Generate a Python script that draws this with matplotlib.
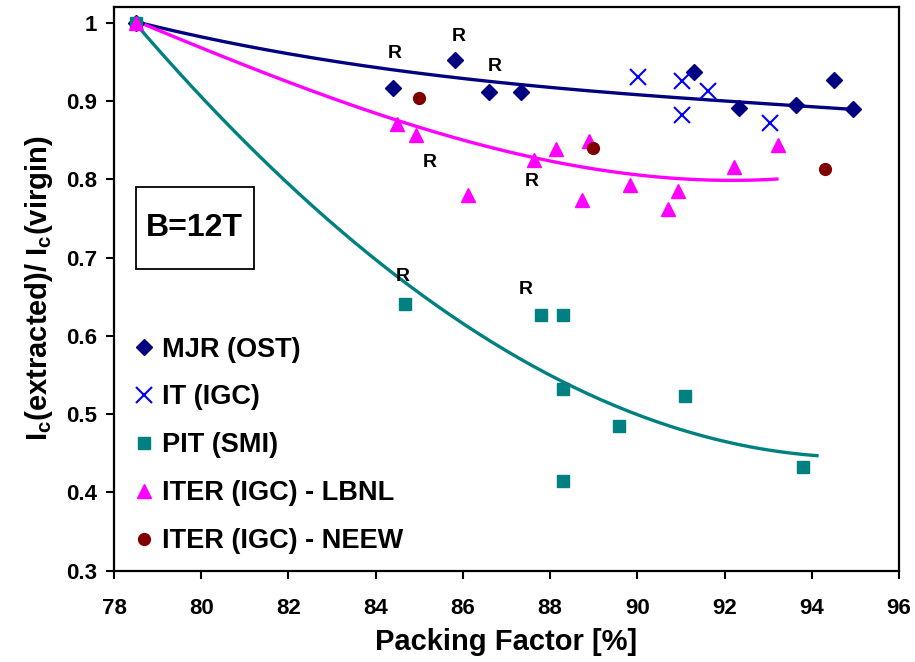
import numpy as np
import matplotlib
matplotlib.use("Agg")
import matplotlib.pyplot as plt
from matplotlib.patches import Rectangle

plt.rcParams['font.family'] = ['Liberation Sans', 'DejaVu Sans']
plt.rcParams['font.weight'] = 'bold'
plt.rcParams['mathtext.fontset'] = 'custom'
plt.rcParams['mathtext.rm'] = 'Liberation Sans:bold'
plt.rcParams['mathtext.bf'] = 'Liberation Sans:bold'
plt.rcParams['mathtext.default'] = 'bf'

# ---- data ----
mjr_x = [78.5, 84.39, 85.81, 86.61, 87.33, 91.31, 92.33, 93.63, 94.52, 94.94]
mjr_y = [1.0, 0.917, 0.952, 0.911, 0.911, 0.937, 0.891, 0.895, 0.927, 0.890]

it_x = [90.01, 91.02, 91.02, 91.62, 93.05]
it_y = [0.931, 0.925, 0.882, 0.913, 0.872]

pit_x = [78.5, 84.67, 87.79, 88.29, 88.29, 88.29, 89.58, 91.09, 93.80]
pit_y = [1.0, 0.641, 0.626, 0.626, 0.532, 0.414, 0.485, 0.523, 0.432]

lbnl_x = [78.5, 84.50, 84.93, 86.11, 87.63, 88.14, 88.90, 88.74, 89.83, 90.71, 90.94, 92.22, 93.22]
lbnl_y = [1.0, 0.871, 0.856, 0.780, 0.825, 0.839, 0.849, 0.774, 0.793, 0.762, 0.785, 0.816, 0.844]

neew_x = [85.00, 88.98, 94.31]
neew_y = [0.904, 0.840, 0.813]

# trend lines
mjr_trend_x = [78.5, 81.27, 84.33, 87.0, 88.69, 90.98, 93.28, 94.94]
mjr_trend_y = [1.0, 0.971, 0.937, 0.923, 0.914, 0.905, 0.895, 0.889]

pit_trend_x = [78.5, 79.74, 81.27, 82.80, 84.64, 86.39, 88.31, 90.22, 92.13, 94.12]
pit_trend_y = [1.0, 0.914, 0.842, 0.752, 0.667, 0.601, 0.541, 0.495, 0.465, 0.446]

lbnl_trend_x = [78.5, 81.27, 84.33, 86.39, 87.0, 88.69, 90.98, 93.2]
lbnl_trend_y = [1.0, 0.946, 0.874, 0.842, 0.835, 0.817, 0.805, 0.798]

r_x = [84.43, 85.90, 86.72, 85.25, 87.59, 84.61, 87.43]
r_y = [0.961, 0.982, 0.944, 0.822, 0.797, 0.676, 0.659]

xticks = [78, 80, 82, 84, 86, 88, 90, 92, 94, 96]
yticks = [0.3, 0.4, 0.5, 0.6, 0.7, 0.8, 0.9, 1.0]
ytick_labels = ['0.3', '0.4', '0.5', '0.6', '0.7', '0.8', '0.9', '1']

NAVY = '#000080'
BLUE = '#0000FF'
TEAL = '#008080'
MAGENTA = '#FF00FF'
DARKRED = '#800000'

fig = plt.figure(figsize=(9.15, 6.62), dpi=100)
ax = fig.add_axes([0.1246, 0.1379, 0.8579, 0.852])

def trend(xs, ys, color, deg=2):
    c = np.polyfit(xs, ys, deg)
    xx = np.linspace(min(xs), max(xs), 200)
    ax.plot(xx, np.polyval(c, xx), color=color, lw=2.4, zorder=2)

trend(mjr_trend_x, mjr_trend_y, NAVY, 3)
trend(pit_trend_x, pit_trend_y, TEAL, 3)
trend(lbnl_trend_x, lbnl_trend_y, MAGENTA, 3)

ax.plot(mjr_x, mjr_y, 'D', color=NAVY, ms=8.5, ls='none', label='MJR (OST)', zorder=3)
ax.plot(it_x, it_y, 'x', color=BLUE, ms=12, mew=1.5, ls='none', label='IT (IGC)', zorder=3)
ax.plot(pit_x, pit_y, 's', color=TEAL, ms=8.5, ls='none', label='PIT (SMI)', zorder=3)
ax.plot(lbnl_x, lbnl_y, '^', color=MAGENTA, ms=10, ls='none', label='ITER (IGC) - LBNL', zorder=3)
ax.plot(neew_x, neew_y, 'o', color=DARKRED, ms=8.5, ls='none', label='ITER (IGC) - NEEW', zorder=3)

for x, y in zip(r_x, r_y):
    ax.text(x, y, 'R', fontsize=14, fontweight='bold', ha='center', va='center', zorder=4)

ax.set_xlim(78, 96)
ax.set_ylim(0.3, 1.0204)
ax.set_xticks(xticks)
ax.set_yticks(yticks)
ax.set_yticklabels(ytick_labels)
ax.tick_params(axis='both', direction='out', length=6, width=1.5, labelsize=16, pad=6)
ax.tick_params(axis='x', pad=14)
for lab in ax.get_xticklabels() + ax.get_yticklabels():
    lab.set_fontweight('bold')
for s in ax.spines.values():
    s.set_linewidth(1.6)
    s.set_color('black')

ax.set_xlabel('Packing Factor [%]', fontsize=21, fontweight='bold', labelpad=6)
ax.set_ylabel(r'I$_{c}$(extracted)/ I$_{c}$(virgin)', fontsize=21, fontweight='bold', labelpad=8)

# B=12T box
ax.add_patch(Rectangle((0.0276, 0.535), 0.1507, 0.146, transform=ax.transAxes,
                       facecolor='white', edgecolor='black', lw=1.3, zorder=5))
ax.text(0.103, 0.607, 'B=12T', transform=ax.transAxes, fontsize=23, fontweight='bold',
        ha='center', va='center', zorder=6)

leg = ax.legend(loc='upper left', bbox_to_anchor=(0.0, 0.444), frameon=False,
                fontsize=19.5, handlelength=1.0, handletextpad=0.19, labelspacing=0.81,
                borderaxespad=0.2, numpoints=1)
for t in leg.get_texts():
    t.set_fontweight('bold')

fig.savefig('out.png', dpi=100)
